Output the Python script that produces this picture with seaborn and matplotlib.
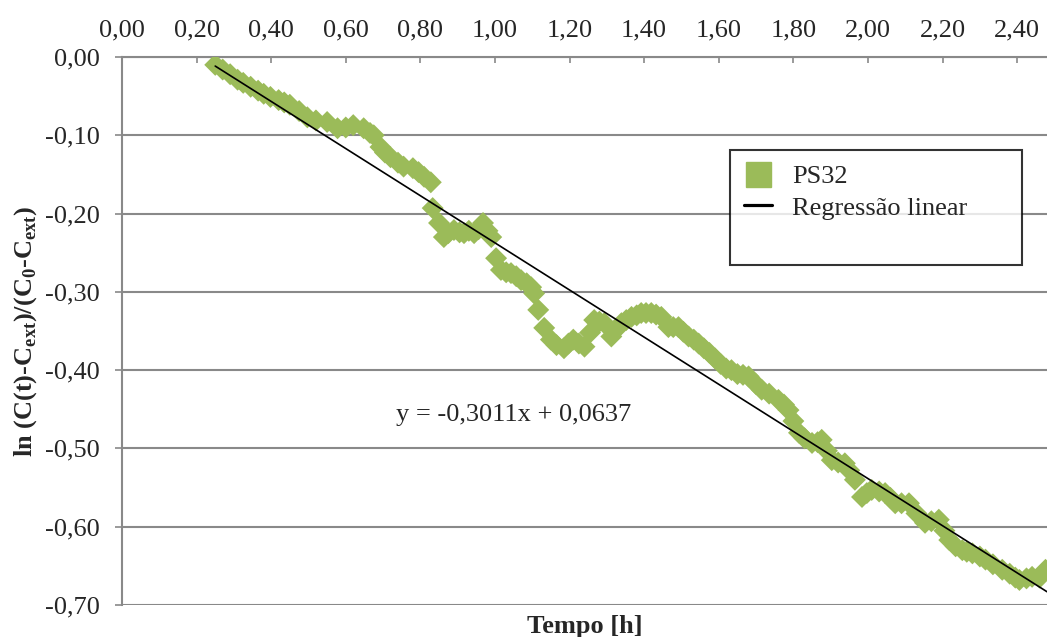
"""ln concentration decay vs time - PS32"""
import numpy as np
import matplotlib
matplotlib.use('Agg')
import matplotlib.pyplot as plt
from matplotlib.ticker import FuncFormatter, MultipleLocator
from matplotlib.lines import Line2D
import seaborn as sns
import pandas as pd

tempo = [0.25, 0.27, 0.29, 0.31, 0.325, 0.345, 0.365, 0.38, 0.398, 0.42,
         0.435, 0.45, 0.475, 0.497, 0.52, 0.55, 0.578, 0.60, 0.62, 0.648,
         0.665, 0.675, 0.693, 0.705, 0.72, 0.74, 0.755, 0.78, 0.795, 0.81,
         0.828, 0.833, 0.85, 0.863, 0.875, 0.89, 0.905, 0.917, 0.93, 0.944,
         0.956, 0.968, 0.98, 0.99, 1.003, 1.016, 1.03, 1.043, 1.057, 1.07,
         1.085, 1.097, 1.105, 1.116, 1.132, 1.15, 1.165, 1.185, 1.197, 1.21,
         1.225, 1.24, 1.255, 1.266, 1.28, 1.293, 1.312, 1.325, 1.339, 1.352,
         1.366, 1.38, 1.392, 1.405, 1.419, 1.432, 1.446, 1.465, 1.478, 1.492,
         1.505, 1.519, 1.533, 1.546, 1.56, 1.575, 1.59, 1.605, 1.62, 1.634,
         1.65, 1.665, 1.68, 1.70, 1.715, 1.735, 1.76, 1.775, 1.787, 1.80,
         1.815, 1.83, 1.85, 1.865, 1.876, 1.89, 1.903, 1.92, 1.938, 1.95,
         1.965, 1.984, 1.997, 2.01, 2.03, 2.046, 2.06, 2.073, 2.09, 2.11,
         2.13, 2.153, 2.17, 2.19, 2.205, 2.218, 2.235, 2.253, 2.265, 2.28,
         2.30, 2.315, 2.335, 2.36, 2.38, 2.395, 2.406, 2.425, 2.44, 2.46,
         2.476]
ln_c = [-0.010, -0.016, -0.022, -0.029, -0.033, -0.038, -0.043, -0.047, -0.051, -0.055,
        -0.058, -0.061, -0.069, -0.077, -0.081, -0.083, -0.091, -0.090, -0.087, -0.091,
        -0.097, -0.100, -0.115, -0.122, -0.128, -0.135, -0.140, -0.142, -0.147, -0.153,
        -0.160, -0.193, -0.212, -0.230, -0.225, -0.221, -0.224, -0.225, -0.222, -0.225,
        -0.220, -0.212, -0.222, -0.230, -0.257, -0.272, -0.275, -0.276, -0.280, -0.285,
        -0.289, -0.294, -0.302, -0.323, -0.346, -0.361, -0.368, -0.372, -0.366, -0.361,
        -0.366, -0.370, -0.352, -0.336, -0.338, -0.340, -0.357, -0.348, -0.340, -0.336,
        -0.332, -0.330, -0.327, -0.327, -0.327, -0.329, -0.332, -0.345, -0.345, -0.345,
        -0.351, -0.357, -0.361, -0.366, -0.372, -0.378, -0.385, -0.392, -0.398, -0.400,
        -0.405, -0.406, -0.408, -0.418, -0.425, -0.430, -0.438, -0.444, -0.451, -0.465,
        -0.480, -0.487, -0.493, -0.492, -0.489, -0.503, -0.515, -0.518, -0.519, -0.528,
        -0.540, -0.562, -0.557, -0.553, -0.555, -0.557, -0.563, -0.570, -0.570, -0.570,
        -0.583, -0.595, -0.593, -0.591, -0.605, -0.617, -0.625, -0.630, -0.632, -0.634,
        -0.638, -0.642, -0.648, -0.655, -0.660, -0.665, -0.668, -0.666, -0.664, -0.665,
        -0.655]

slope = -0.3011
intercept = 0.0637
x_max = 2.48

sns.set_style('white')
plt.rcParams['font.family'] = ['Liberation Serif', 'DejaVu Serif']
plt.rcParams['mathtext.fontset'] = 'custom'
plt.rcParams['mathtext.rm'] = 'Liberation Serif'
plt.rcParams['mathtext.bf'] = 'Liberation Serif:bold'

df = pd.DataFrame({'tempo': tempo, 'ln_c': ln_c})
fit = pd.DataFrame({'tempo': [df['tempo'].min(), x_max]})
fit['ln_c'] = slope * fit['tempo'] + intercept

fig = plt.figure(figsize=(10.47, 6.37), dpi=100)
ax = fig.add_axes([0.1165, 0.0502, 0.8835, 0.8603])

green = '#9BBB59'
grid_c = '#898989'
fs = 19

sns.scatterplot(data=df, x='tempo', y='ln_c', ax=ax, marker='D', s=125,
                color=green, edgecolor='none', linewidth=0, zorder=3)
sns.lineplot(data=fit, x='tempo', y='ln_c', ax=ax, color='black',
             linewidth=1.2, zorder=4)

ax.set_xlim(0, x_max)
ax.set_ylim(-0.70, 0.0)
ax.xaxis.set_major_locator(MultipleLocator(0.2))
ax.yaxis.set_major_locator(MultipleLocator(0.1))
fmt = FuncFormatter(lambda v, p: f'{v:.2f}'.replace('.', ',').replace('-0,00', '0,00'))
ax.xaxis.set_major_formatter(fmt)
ax.yaxis.set_major_formatter(fmt)

ax.xaxis.tick_top()
ax.tick_params(axis='x', direction='in', length=4.5, width=1.2, color=grid_c,
               labelsize=fs, pad=11.5)
ax.tick_params(axis='y', direction='out', length=5, width=1.2, color=grid_c,
               labelsize=fs, pad=11, left=True)

ax.grid(axis='y', color=grid_c, linewidth=1.5)
ax.grid(axis='x', visible=False)
ax.set_axisbelow(True)
for side in ['right', 'bottom']:
    ax.spines[side].set_visible(False)
for side in ['left', 'top']:
    ax.spines[side].set_color(grid_c)
    ax.spines[side].set_linewidth(1.5)

ax.set_xlabel('Tempo [h]', fontsize=fs, fontweight='bold')
ax.xaxis.set_label_position('bottom')
ax.xaxis.labelpad = 7
ax.set_ylabel(r'ln (C(t)-C$_{\mathbf{ext}}$)/(C$_{\mathbf{0}}$-C$_{\mathbf{ext}}$)',
              fontsize=fs, fontweight='bold', labelpad=4)

ax.text(1.051, -0.457, 'y = -0,3011x + 0,0637', fontsize=fs,
        ha='center', va='center')

handles = [Line2D([], [], marker='s', color=green, linestyle='none', markersize=18),
           Line2D([], [], color='black', linewidth=2.3),
           Line2D([], [], color='none')]
leg = ax.legend(handles, ['PS32', 'Regressão linear', ' '],
                bbox_to_anchor=(0.657, 0.83, 0.316, 0.0), loc='upper left',
                mode='expand', fontsize=fs, frameon=True, fancybox=False,
                handlelength=1.06, handletextpad=0.76, borderpad=0.55,
                labelspacing=0.3, borderaxespad=0)
leg.get_frame().set_edgecolor('black')
leg.get_frame().set_linewidth(1.5)

fig.savefig('out.png', dpi=100)
